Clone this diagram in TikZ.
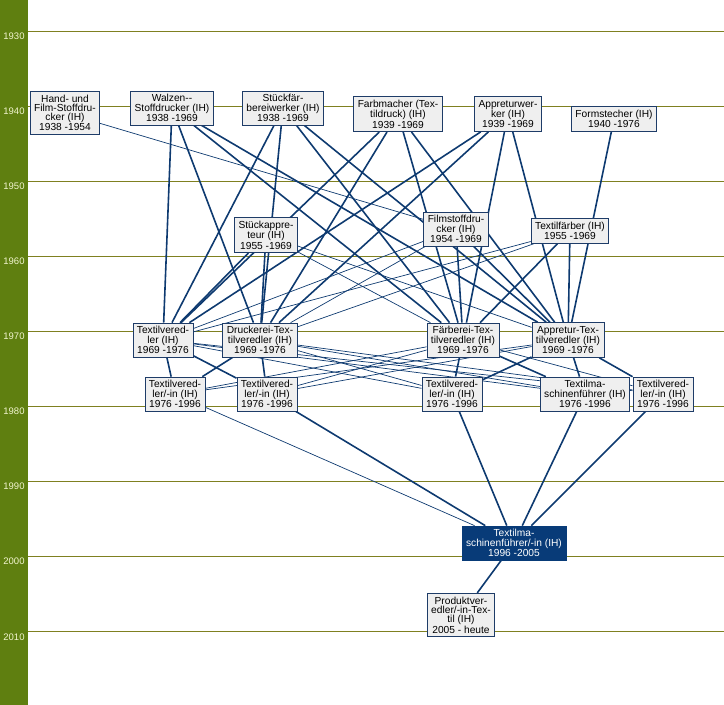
\documentclass[tikz,border=0pt]{standalone}
\usepackage{fontspec}
\setmainfont{Liberation Sans}
\usepackage{tikz}

\definecolor{leiste}{HTML}{5F7F10}
\definecolor{gitter}{HTML}{7F8020}
\definecolor{jahrtext}{HTML}{F2F5D0}
\definecolor{boxfill}{HTML}{EFEFEF}
\definecolor{boxline}{HTML}{1E3C68}
\definecolor{linkblau}{HTML}{0E3A70}
\definecolor{zielblau}{HTML}{083B78}

\pgfdeclarelayer{grid}
\pgfdeclarelayer{links}
\pgfsetlayers{grid,links,main}

\begin{document}
\begin{tikzpicture}[x=1pt,y=-1pt,
    beruf/.style={draw=boxline,fill=boxfill,line width=0.8pt,align=center,
      inner xsep=4pt,inner ysep=3.5pt,font=\fontsize{10.2}{9.2}\selectfont},
    aktuell/.style={beruf,draw=zielblau,fill=zielblau,text=white},
    link/.style={draw=linkblau,line width=1.6pt},
    nebenlink/.style={draw=linkblau,line width=0.7pt},
    jahr/.style={text=jahrtext,font=\fontsize{9.5}{9.5}\selectfont}]
    \useasboundingbox (0,0) rectangle (724,705);

    % Zeitachse
    \begin{pgfonlayer}{grid}
    \fill[leiste] (0,0) rectangle (28,705);
    \foreach \j in {1930,1940,...,2010} {
        \coordinate (g\j) at (28,{31+(\j-1930)*7.51});
        \coordinate (h\j) at (724,{31+(\j-1930)*7.51});
        \draw[gitter,line width=0.8pt] (g\j) -- (h\j);
        \node[jahr] (j\j) at (14,{36+(\j-1930)*7.51}) {\j};
    }
    \end{pgfonlayer}

    \path
    (65,113) node[beruf] (hand) {Hand- und\\Film-Stoffdru-\\cker (IH)\\1938 -1954}
    (172,108) node[beruf] (walzen) {Walzen-{}-\\Stoffdrucker (IH)\\1938 -1969}
    (283,108) node[beruf] (stueckfaerb) {Stückfär-\\bereiwerker (IH)\\1938 -1969}
    (398,114) node[beruf] (farbmacher) {Farbmacher (Tex-\\tildruck) (IH)\\1939 -1969}
    (508,114) node[beruf] (appretw) {Appreturwer-\\ker (IH)\\1939 -1969}
    (614,119) node[beruf] (formst) {Formstecher (IH)\\1940 -1976};

    \path
    (266,235) node[beruf] (stueckappr) {Stückappre-\\teur (IH)\\1955 -1969}
    (456,229) node[beruf] (filmst) {Filmstoffdru-\\cker (IH)\\1954 -1969}
    (570,231) node[beruf] (textilf) {Textilfärber (IH)\\1955 -1969};

    \path
    (163,340) node[beruf] (tv) {Textilvered-\\ler (IH)\\1969 -1976}
    (260,340) node[beruf] (druckerei) {Druckerei-Tex-\\tilveredler (IH)\\1969 -1976}
    (463,340) node[beruf] (faerberei) {Färberei-Tex-\\tilveredler (IH)\\1969 -1976}
    (568,340) node[beruf] (appretur) {Appretur-Tex-\\tilveredler (IH)\\1969 -1976};

    \path
    (175,394) node[beruf] (tva) {Textilvered-\\ler/-in (IH)\\1976 -1996}
    (267,394) node[beruf] (tvb) {Textilvered-\\ler/-in (IH)\\1976 -1996}
    (452,394) node[beruf] (tvc) {Textilvered-\\ler/-in (IH)\\1976 -1996}
    (585,394) node[beruf] (maschf) {Textilma-\\schinenführer (IH)\\1976 -1996}
    (663,394) node[beruf] (tvd) {Textilvered-\\ler/-in (IH)\\1976 -1996};

    \path
    (514,543) node[aktuell] (maschfin) {Textilma-\\schinenführer/-in (IH)\\1996 -2005}
    (461,615) node[beruf] (produkt) {Produktver-\\edler/-in-Tex-\\til (IH)\\2005 - heute};

    \begin{pgfonlayer}{links}
    \path
    (hand) edge[nebenlink] (filmst)
    (walzen) edge[link] (tv)
    (walzen) edge[link] (druckerei)
    (walzen) edge[link] (faerberei)
    (walzen) edge[link] (appretur)
    (stueckfaerb) edge[link] (tv)
    (stueckfaerb) edge[link] (druckerei)
    (stueckfaerb) edge[link] (faerberei)
    (stueckfaerb) edge[link] (appretur)
    (farbmacher) edge[link] (tv)
    (farbmacher) edge[link] (druckerei)
    (farbmacher) edge[link] (faerberei)
    (farbmacher) edge[link] (appretur)
    (appretw) edge[link] (tv)
    (appretw) edge[link] (druckerei)
    (appretw) edge[link] (faerberei)
    (appretw) edge[link] (appretur)
    (formst) edge[link] (appretur);

    \path
    (stueckappr) edge[link] (tv)
    (stueckappr) edge[link] (druckerei)
    (stueckappr) edge[nebenlink] (faerberei)
    (stueckappr) edge[nebenlink] (appretur)
    (filmst) edge[nebenlink] (tv)
    (filmst) edge[nebenlink] (druckerei)
    (filmst) edge[link] (faerberei)
    (filmst) edge[link] (appretur)
    (textilf) edge[nebenlink] (tv)
    (textilf) edge[nebenlink] (druckerei)
    (textilf) edge[link] (faerberei)
    (textilf) edge[link] (appretur);

    \path
    (tv) edge[link] (tva)
    (tv) edge[link] (tvb)
    (tv) edge[nebenlink] (tvc)
    (tv) edge[nebenlink] (maschf)
    (tv) edge[nebenlink] (tvd)
    (druckerei) edge[link] (tva)
    (druckerei) edge[link] (tvb)
    (druckerei) edge[nebenlink] (tvc)
    (druckerei) edge[nebenlink] (maschf)
    (druckerei) edge[nebenlink] (tvd)
    (faerberei) edge[nebenlink] (tva)
    (faerberei) edge[nebenlink] (tvb)
    (faerberei) edge[link] (tvc)
    (faerberei) edge[link] (maschf)
    (faerberei) edge[nebenlink] (tvd)
    (appretur) edge[nebenlink] (tva)
    (appretur) edge[nebenlink] (tvb)
    (appretur) edge[link] (tvc)
    (appretur) edge[link] (maschf)
    (appretur) edge[link] (tvd);

    \path
    (tva) edge[nebenlink] (maschfin)
    (tvb) edge[link] (maschfin)
    (tvc) edge[link] (maschfin)
    (maschf) edge[link] (maschfin)
    (tvd) edge[link] (maschfin)
    (maschfin) edge[link] (produkt);
    \end{pgfonlayer}
\end{tikzpicture}
\end{document}
